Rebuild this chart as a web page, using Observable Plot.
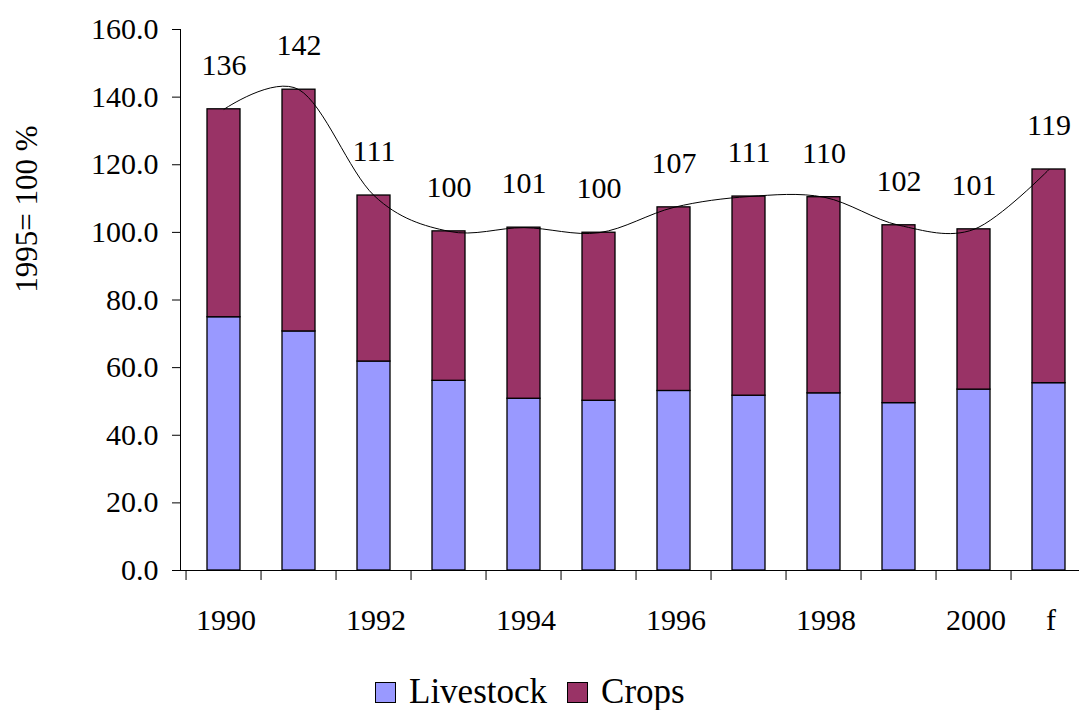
<!DOCTYPE html>
<html>
<head>
<meta charset="utf-8">
<script src="https://cdn.jsdelivr.net/npm/d3@7"></script>
<script src="https://cdn.jsdelivr.net/npm/@observablehq/plot@0.6"></script>
</head>
<body style="margin:0;padding:0;background:#fff;">
<div id="wrap" style="position:relative;width:1079px;height:710px;overflow:hidden;font-family:'Liberation Serif';">
  <div id="chart"></div>
  <div id="ytitle" style="position:absolute;left:27px;top:209px;transform:translate(-50%,-50%) rotate(-90deg);font-size:31px;color:#000;white-space:nowrap;font-family:'Liberation Serif';"></div>
  <div id="legend" style="position:absolute;left:375px;top:672px;display:flex;align-items:center;font-size:35px;color:#000;white-space:nowrap;font-family:'Liberation Serif';"></div>
</div>
<script>
// ---- data ----
const categories = ["1990","1991","1992","1993","1994","1995","1996","1997","1998","1999","2000","f"];
const shownLabels = ["1990","1992","1994","1996","1998","2000","f"];
const livestock = [74.9, 70.7, 61.8, 56.1, 50.8, 50.2, 53.1, 51.7, 52.4, 49.5, 53.5, 55.4];
const crops     = [61.5, 71.5, 49.1, 44.2, 50.6, 49.7, 54.3, 58.9, 58.0, 52.6, 47.4, 63.2];
const seriesNames = ["Livestock", "Crops"];
const seriesColors = ["#9999FF", "#993366"];
const yTicks = [0, 20, 40, 60, 80, 100, 120, 140, 160];
const yTitle = "1995= 100 %";

// ---- derived tables ----
const table = [];
categories.forEach((c, i) => {
  table.push({cat: c, series: "Livestock", value: livestock[i]});
  table.push({cat: c, series: "Crops", value: crops[i]});
});
const totals = categories.map((c, i) => ({cat: c, total: livestock[i] + crops[i]}));

const font = "Liberation Serif";
const xRange = [180, 1091];
const step = (xRange[1] - xRange[0]) / categories.length;

const chart = Plot.plot({
  width: 1079,
  height: 660,
  marginTop: 29,
  marginBottom: 90,
  marginLeft: 180,
  marginRight: 0,
  style: {fontFamily: font, fontSize: "30px", color: "#000", background: "#fff"},
  x: {type: "band", domain: categories, range: xRange, paddingInner: 0.565, paddingOuter: 0.2825, axis: null},
  y: {domain: [0, 160], axis: null},
  color: {domain: seriesNames, range: seriesColors},
  marks: [
    Plot.barY(table, {x: "cat", y: "value", fill: "series", order: seriesNames, stroke: "#000", strokeWidth: 1.3}),
    Plot.line(totals, {x: "cat", y: "total", curve: "cardinal", stroke: "#000", strokeWidth: 1}),
    Plot.text(totals, {x: "cat", y: "total", text: d => d3.format(".0f")(d.total), dy: -44, fontSize: 30, fontFamily: font, fill: "#000"}),
    Plot.frame({anchor: "left", stroke: "#000", strokeWidth: 1}),
    Plot.frame({anchor: "bottom", stroke: "#000", strokeWidth: 1}),
    Plot.axisY({ticks: yTicks, tickSize: 8, tickPadding: 14, tickFormat: d3.format(".1f"), fontSize: 30, fontFamily: font, label: null, stroke: "#000"}),
    Plot.axisX({ticks: categories, tickSize: 10, tickFormat: () => "", dx: -step / 2, label: null, stroke: "#000"}),
    Plot.text(categories, {x: d => d, text: d => shownLabels.includes(d) ? d : "", frameAnchor: "bottom", dy: 59, dx: 2, fontSize: 30, fontFamily: font, fill: "#000"})
  ]
});
chart.setAttribute("font-family", font);
document.getElementById("chart").appendChild(chart);

document.getElementById("ytitle").textContent = yTitle;

// ---- legend ----
const legend = document.getElementById("legend");
seriesNames.forEach((name, i) => {
  const item = document.createElement("span");
  item.style.cssText = "display:flex;align-items:center;margin-right:" + (i === 0 ? "20px" : "0");
  const sw = document.createElement("span");
  sw.style.cssText = "display:inline-block;width:19px;height:19px;border:1.5px solid #000;margin-right:13px;background:" + seriesColors[i];
  const label = document.createElement("span");
  label.textContent = name;
  item.appendChild(sw);
  item.appendChild(label);
  legend.appendChild(item);
});
</script>
</body>
</html>
